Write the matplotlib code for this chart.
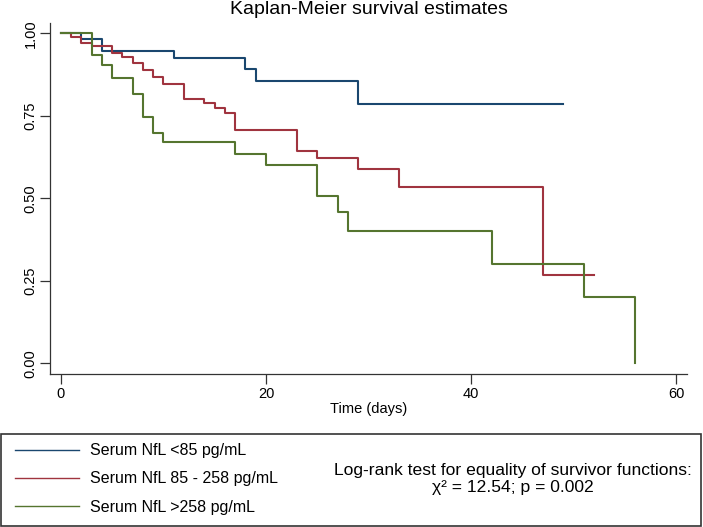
import matplotlib
matplotlib.use("Agg")
import matplotlib.pyplot as plt
from matplotlib.lines import Line2D
from matplotlib.patches import Rectangle

plt.rcParams['font.family'] = ['Liberation Sans', 'DejaVu Sans']

# Kaplan-Meier step data (time in days, survival)
low_t = [0, 2, 4, 11, 18, 19, 29, 49]
low_s = [1.0, 0.982, 0.946, 0.924, 0.891, 0.856, 0.785, 0.785]

mid_t = [0, 1, 2, 3, 5, 6, 7, 8, 9, 10, 12, 14, 15, 16, 17, 23, 25, 29, 33, 47, 52]
mid_s = [1.0, 0.99, 0.97, 0.96, 0.941, 0.929, 0.909, 0.889, 0.867, 0.845, 0.801,
         0.788, 0.773, 0.758, 0.707, 0.644, 0.622, 0.589, 0.535, 0.268, 0.268]

high_t = [0, 3, 4, 5, 7, 8, 9, 10, 17, 20, 25, 27, 28, 42, 51, 56]
high_s = [1.0, 0.934, 0.904, 0.864, 0.817, 0.745, 0.697, 0.672, 0.635, 0.60,
          0.507, 0.458, 0.401, 0.30, 0.20, 0.0]

labels = ["Serum NfL <85 pg/mL", "Serum NfL 85 - 258 pg/mL", "Serum NfL >258 pg/mL"]
colors = ["#1a476f", "#a0343f", "#55752f"]
x_ticks = [0, 20, 40, 60]
y_ticks = [0.0, 0.25, 0.5, 0.75, 1.0]
y_ticklabels = ["0.00", "0.25", "0.50", "0.75", "1.00"]

W, H = 703, 527
fig = plt.figure(figsize=(W / 100, H / 100), dpi=100)
ax = fig.add_axes([50 / W, 1 - 374.3 / H, (687 - 50) / W, (374.3 - 22.7) / H])

for t, s, c in zip([low_t, mid_t, high_t], [low_s, mid_s, high_s], colors):
    ax.step(t, s, where='post', color=c, lw=1.5)

ax.set_xlim(-1.07, 61.07)
ax.set_ylim(-0.033, 1.032)
ax.set_xticks(x_ticks)
ax.set_yticks(y_ticks)
ax.set_yticklabels(y_ticklabels, rotation=90, va='center')
ax.tick_params(axis='both', length=7, width=0.9, color='#333333', labelsize=10.5)
ax.tick_params(axis='y', pad=2)
ax.tick_params(axis='x', pad=2)
for side in ['top', 'right']:
    ax.spines[side].set_visible(False)
for side in ['left', 'bottom']:
    ax.spines[side].set_color('#333333')
    ax.spines[side].set_linewidth(0.9)
ax.set_xlabel("Time (days)", fontsize=10.5, labelpad=1)

fig.text(368.5 / W, 1 - 9.5 / H, "Kaplan-Meier survival estimates",
         ha='center', va='center', fontsize=14)

# legend box with the log-rank note
fig.add_artist(Rectangle((1 / W, 1 - 526 / H), 699.5 / W, (526 - 434.3) / H,
                         transform=fig.transFigure, fill=False,
                         edgecolor='#333333', lw=1.2))
handles = [Line2D([], [], color=c, lw=1.0) for c in colors]
fig.legend(handles, labels, loc='center left',
           bbox_to_anchor=(15 / W, 1 - 479 / H), frameon=False,
           fontsize=11.5, handlelength=4.0, handletextpad=0.7,
           labelspacing=0.82, borderpad=0, borderaxespad=0)
fig.text(513 / W, 1 - 479 / H,
         "Log-rank test for equality of survivor functions:\nχ² = 12.54; p = 0.002",
         ha='center', va='center', fontsize=12.6, linespacing=1.2)

fig.savefig("out.png", dpi=100)
